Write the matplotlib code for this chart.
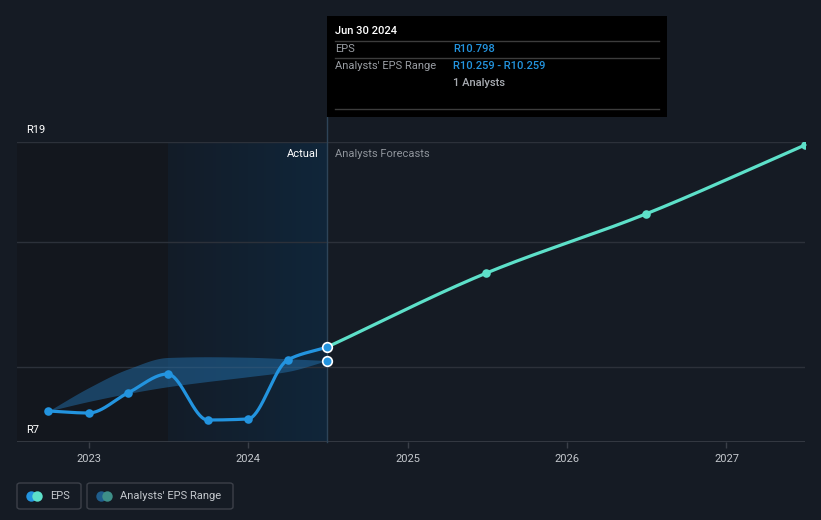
import numpy as np
import pandas as pd
import matplotlib
matplotlib.use("Agg")
import matplotlib.pyplot as plt
import matplotlib.dates as mdates
from matplotlib.patches import Rectangle, FancyBboxPatch
from matplotlib.lines import Line2D
from matplotlib.colors import LinearSegmentedColormap

plt.rcParams['font.family'] = ['Roboto', 'DejaVu Sans']

# ---------------- data ----------------
actual_dates = ["2022-09-30", "2022-12-31", "2023-03-31", "2023-06-30",
                "2023-09-30", "2023-12-31", "2024-03-31", "2024-06-30"]
actual_eps = [8.24, 8.16, 8.96, 9.72, 7.88, 7.92, 10.28, 10.798]

forecast_dates = ["2024-06-30", "2025-06-30", "2026-06-30", "2027-06-30"]
forecast_eps = [10.798, 13.76, 16.12, 18.88]

range_dates = ["2022-09-30", "2022-12-31", "2023-03-31", "2023-06-30",
               "2023-09-30", "2023-12-31", "2024-03-31", "2024-06-30"]
range_low = [8.24, 8.62, 8.94, 9.21, 9.42, 9.61, 9.82, 10.259]
range_high = [8.24, 9.17, 9.92, 10.38, 10.41, 10.39, 10.33, 10.259]

year_ticks = ["2023", "2024", "2025", "2026", "2027"]
grid_values = [10, 15, 19]
y_min, y_max = 7, 19

# ---------------- colors ----------------
BG = "#151b24"
PAST = "#13171e"
GRID = "#2c313a"
BLUE = "#2394df"
TEAL = "#5de0c9"
TXT = "#c4c8cd"
FS = 8


def to_num(ds):
    return mdates.date2num(pd.to_datetime(ds).to_pydatetime())


def monotone(x, y, n=60):
    x = np.asarray(x, float)
    y = np.asarray(y, float)
    h = np.diff(x)
    d = np.diff(y) / h
    m = np.zeros_like(y)
    m[0], m[-1] = d[0], d[-1]
    for i in range(1, len(y) - 1):
        if d[i - 1] * d[i] <= 0:
            m[i] = 0
        else:
            w1 = 2 * h[i] + h[i - 1]
            w2 = h[i] + 2 * h[i - 1]
            m[i] = (w1 + w2) / (w1 / d[i - 1] + w2 / d[i])
    xs, ys = [], []
    for i in range(len(x) - 1):
        t = np.linspace(0, 1, n)
        h00 = 2 * t**3 - 3 * t**2 + 1
        h10 = t**3 - 2 * t**2 + t
        h01 = -2 * t**3 + 3 * t**2
        h11 = t**3 - t**2
        xs.append(x[i] + t * h[i])
        ys.append(h00 * y[i] + h10 * h[i] * m[i] + h01 * y[i + 1] + h11 * h[i] * m[i + 1])
    return np.concatenate(xs), np.concatenate(ys)


W, H = 821, 520
fig = plt.figure(figsize=(W / 100, H / 100), dpi=100, facecolor=BG)


def fx(x):
    return x / W


def fy(y):
    return 1 - y / H


ax = fig.add_axes([fx(17), fy(442), fx(805) - fx(17), fy(142) - fy(442)])
ax.set_facecolor(BG)
for s in ax.spines.values():
    s.set_visible(False)

ad = to_num(actual_dates)
fd = to_num(forecast_dates)
rd = to_num(range_dates)

x_left = to_num(["2022-07-20"])[0]
x_right = to_num(["2027-06-30"])[0]
ax.set_xlim(x_left, x_right)
ax.set_ylim(y_min, y_max)

split_past = to_num(["2023-06-30"])[0]
now = to_num(["2024-06-30"])[0]
ax.axvspan(x_left, split_past, color=PAST, zorder=0, lw=0)
grad = np.linspace(0, 1, 512).reshape(1, -1)
cmap = LinearSegmentedColormap.from_list("hl", ["#131c28", "#10263a"], N=1024)
ax.imshow(grad, extent=[split_past, now, y_min, y_max], aspect="auto",
          cmap=cmap, zorder=0.5, interpolation="bilinear")

for g in grid_values:
    ax.axhline(g, color=GRID, lw=1, zorder=1)
ax.axhline(y_min, color="#3a3f48", lw=1.2, zorder=1)

# range band
bx, bl = monotone(rd, range_low)
_, bh = monotone(rd, range_high)
ax.fill_between(bx, bl, bh, color="#2478b8", alpha=0.45, lw=0, zorder=2)

# lines
sx, sy = monotone(ad, actual_eps)
ax.plot(sx, sy, color=BLUE, lw=2.3, zorder=4, solid_capstyle="round")
fx_, fy_ = monotone(fd, forecast_eps)
ax.plot(fx_, fy_, color=TEAL, lw=2.3, zorder=4, solid_capstyle="round", clip_on=False)

ax.scatter(ad[:-1], actual_eps[:-1], s=38, color=BLUE, zorder=5, lw=0)
ax.scatter(fd[1:], forecast_eps[1:], s=38, color=TEAL, zorder=5, lw=0)
ax.scatter([ad[-1]], [actual_eps[-1]], s=48, color=BLUE, edgecolor="white", lw=1.2, zorder=6, clip_on=False)
ax.scatter([rd[-1]], [range_low[-1]], s=48, color=BLUE, edgecolor="white", lw=1.2, zorder=6, clip_on=False)

# now line
ax.plot([now, now], [y_min, 20], color="#2e4458", lw=1, zorder=3, clip_on=False)

# ticks
tick_pos = to_num([f"{y}-01-01" for y in year_ticks])
ax.set_xticks(tick_pos)
ax.set_xticklabels(year_ticks)
ax.tick_params(axis="x", colors="#3a3f48", length=4, width=1, labelcolor=TXT, labelsize=FS, pad=5)
ax.set_yticks([])

# y labels
fig.text(fx(26), fy(130), "R19", color="white", fontsize=FS, va="center", ha="left")
fig.text(fx(26), fy(430), "R7", color="white", fontsize=FS, va="center", ha="left")

fig.text(fx(319), fy(154), "Actual", color="white", fontsize=FS, va="center", ha="right")
fig.text(fx(335), fy(154), "Analysts Forecasts", color="#8f949b", fontsize=FS, va="center", ha="left")

# tooltip
fig.patches.append(Rectangle((fx(327), fy(117)), fx(667) - fx(327), fy(16) - fy(117),
                             transform=fig.transFigure, facecolor="black", edgecolor="none", zorder=10))
fig.text(fx(335), fy(31), "Jun 30 2024", color="white", fontsize=FS, va="center", ha="left",
         fontweight="medium", zorder=11)
for yy in (41, 58, 109):
    fig.add_artist(Line2D([fx(335), fx(659)], [fy(yy), fy(yy)], color="#3c3c3c", lw=1,
                          transform=fig.transFigure, zorder=11))
fig.text(fx(335), fy(48.5), "EPS", color="#9a9ea4", fontsize=FS, va="center", ha="left", zorder=11)
fig.text(fx(453), fy(48.5), "R10.798", color=BLUE, fontsize=FS, va="center", ha="left",
         fontweight="medium", zorder=11)
fig.text(fx(335), fy(66), "Analysts' EPS Range", color="#9a9ea4", fontsize=FS, va="center", ha="left", zorder=11)
fig.text(fx(453), fy(66), "R10.259 - R10.259", color=BLUE, fontsize=FS, va="center", ha="left",
         fontweight="medium", zorder=11)
fig.text(fx(453), fy(83), "1 Analysts", color="#a8acb2", fontsize=FS, va="center", ha="left",
         fontweight="medium", zorder=11)


# legend
def legend_box(x0, x1, label, c1, c2):
    fig.patches.append(FancyBboxPatch((fx(x0), fy(509)), fx(x1) - fx(x0), fy(483) - fy(509),
                                      boxstyle="round,pad=0,rounding_size=0.004",
                                      transform=fig.transFigure, facecolor="none",
                                      edgecolor="#3c4049", lw=1, zorder=10))
    cx = x0 + 14
    fig.add_artist(Line2D([fx(cx)], [fy(496)], marker="o", ms=7.5, color=c1, mec="none",
                          transform=fig.transFigure, zorder=11))
    fig.add_artist(Line2D([fx(cx + 6)], [fy(496)], marker="o", ms=7.5, color=c2, mec="none",
                          transform=fig.transFigure, zorder=12))
    fig.text(fx(x0 + 33), fy(496), label, color=TXT, fontsize=FS, va="center", ha="left", zorder=11)


legend_box(17, 81, "EPS", BLUE, TEAL)
legend_box(87, 233, "Analysts' EPS Range", "#1f5d8c", "#3e8f88")

fig.savefig("out.png", dpi=100, facecolor=BG)
